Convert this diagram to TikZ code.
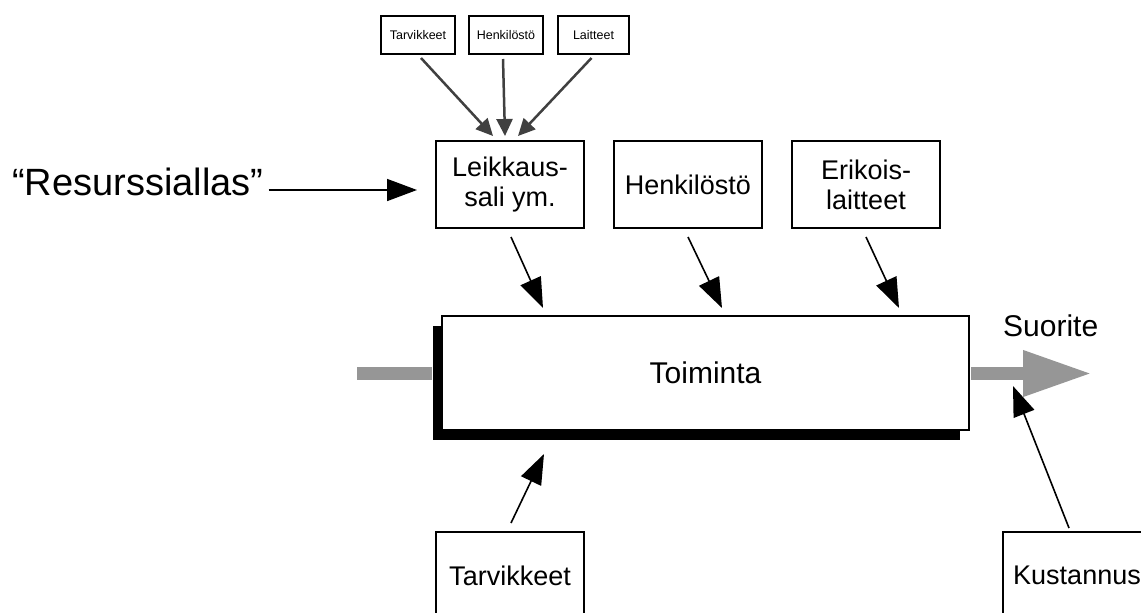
\documentclass[tikz,border=0pt]{standalone}
\usepackage{fontspec}
\setmainfont{Liberation Sans}
\usetikzlibrary{arrows.meta,calc,shadows}

\definecolor{flowgray}{RGB}{150,150,150}
\definecolor{feedgray}{RGB}{64,64,64}

\begin{document}
\begin{tikzpicture}[x=1pt,y=-1pt,
  box/.style={draw=black, line width=2pt, fill=white, minimum width=148pt,
    minimum height=87pt, inner sep=0pt, align=center,
    font=\fontsize{27}{30}\selectfont},
  smallbox/.style={draw=black, line width=2pt, fill=white, minimum height=38pt,
    inner sep=0pt, font=\fontsize{12.5}{14}\selectfont},
  feed/.style={draw=feedgray, line width=2.5pt,
    -{Triangle[length=17pt,width=16pt]}},
  link/.style={draw=black, line width=1.6pt,
    -{Triangle[length=30pt,width=22pt]}},
  flow/.style={draw=flowgray, line width=13pt},
  mainbox/.style={draw=black, line width=2pt, fill=white, minimum width=527pt,
    minimum height=114pt, inner sep=0pt, font=\fontsize{30}{32}\selectfont,
    drop shadow={shadow xshift=-9pt, shadow yshift=-10pt, fill=black, opacity=1}},
]
\useasboundingbox (0,0) rectangle (1141,613);
\fill[white] (0,0) rectangle (1141,613);
\clip (0,0) rectangle (1141,613);

% resource pool inputs
\node[smallbox, minimum width=74pt] (t1) at (418,35) {Tarvikkeet};
\node[smallbox, minimum width=74pt] (t2) at (506,35) {Henkilöstö};
\node[smallbox, minimum width=71pt] (t3) at (593.5,35) {Laitteet};

% resource boxes
\node[box] (leik) at (510,184.5) {Leikkaus-\\sali ym.};
\node[box] (henk) at (688,184.5) {Henkilöstö};
\node[box] (erik) at (866,184.5) {Erikois-\\laitteet};

% pool label
\node[anchor=base west, inner sep=0pt, font=\fontsize{38}{40}\selectfont]
  (res) at (12,195) {“Resurssiallas”};

% activity
\node[mainbox] (main) at (705.5,373) {Toiminta};

% lower inputs
\node[box] (tarv) at (510,575.5) {Tarvikkeet};
\node[box] (kust) at (1077,575.5) {Kustannus};

% process flow
\coordinate (src) at (357,373.5);
\coordinate (out) at (1092,373.5);
\draw[flow] (src) -- ($(main.west)+(-9,0.5)$);
\draw[flow, -{Triangle[length=69pt,width=43pt]}] ($(main.east)+(1,0.5)$) -- (out);
\node[anchor=base west, inner sep=0pt, font=\fontsize{30}{32}\selectfont]
  (suor) at (1003,336) {Suorite};

% connectors
\draw[feed] ($(t1.south)+(3,3)$) -- ($(leik.north)+(-17,-4)$);
\draw[feed] ($(t2.south)+(-3,4)$) -- ($(leik.north)+(-5,-4)$);
\draw[feed] ($(t3.south)+(-2,3)$) -- ($(leik.north)+(8,-4)$);

\draw[link] ($(res.base east)+(5,-5)$) -- ($(leik.west)+(-18,5.5)$);

\draw[link] ($(leik.south)+(1,8)$) -- ($(leik.south)+(33,79)$);
\draw[link] ($(henk.south)+(0,8)$) -- ($(henk.south)+(34,79)$);
\draw[link] ($(erik.south)+(0,8)$) -- ($(erik.south)+(33,79)$);

\draw[link] ($(tarv.north)+(1,-8)$) -- ($(tarv.north)+(34,-77)$);
\draw[link] ($(kust.north)+(-8,-3)$) -- ($(kust.north)+(-64,-145)$);
\end{tikzpicture}
\end{document}
